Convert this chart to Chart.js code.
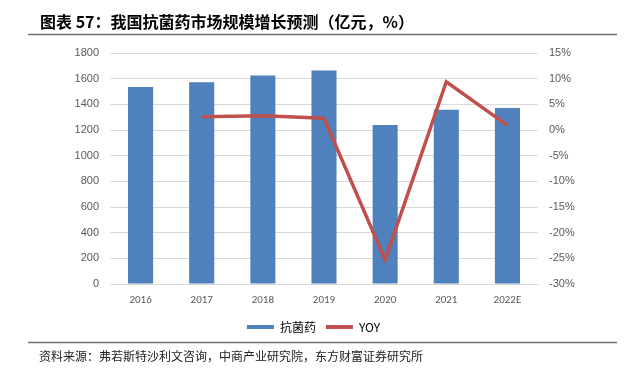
<!DOCTYPE html>
<html>
<head>
<meta charset="utf-8">
<script src="https://cdn.jsdelivr.net/npm/chart.js@4.4.0/dist/chart.umd.min.js"></script>
<style>
  html, body { margin: 0; padding: 0; background: #fff; }
  #wrap { position: relative; width: 627px; height: 373px; }
</style>
</head>
<body>
<div id="wrap"><canvas id="chart" width="627" height="373"></canvas></div>
<script>
const years = ['2016', '2017', '2018', '2019', '2020', '2021', '2022E'];
const marketSize = [1535, 1572, 1624, 1663, 1238, 1357, 1372];
const yoy = [null, 2.6, 2.8, 2.3, -25.3, 9.4, 0.9];
const leftTicks = [0, 200, 400, 600, 800, 1000, 1200, 1400, 1600, 1800];
const rightTicks = [-30, -25, -20, -15, -10, -5, 0, 5, 10, 15];

const titleText = '图表 57：我国抗菌药市场规模增长预测（亿元，%）';
const sourceText = '资料来源：弗若斯特沙利文咨询，中商产业研究院，东方财富证券研究所';

const BLUE = '#4f81bd';
const RED = '#c0504d';
const GREY = '#595959';

// title, rules and source note around the chart
const frame = {
    id: 'frame',
    afterDraw(chart) {
        const c = chart.ctx;
        c.save();
        c.fillStyle = '#000';
        c.font = "bold 16px 'Noto Sans CJK SC'";
        c.textBaseline = 'middle';
        c.fillText(titleText, 40, 22);

        c.strokeStyle = '#6f6f6f';
        c.lineWidth = 1.5;
        c.beginPath();
        c.moveTo(28, 34.5); c.lineTo(617, 34.5);
        c.moveTo(28, 342.5); c.lineTo(617, 342.5);
        c.stroke();

        c.fillStyle = '#222';
        c.font = "12px 'Noto Sans CJK SC'";
        c.fillText(sourceText, 39, 356);
        c.restore();
    }
};

new Chart(document.getElementById('chart').getContext('2d'), {
    type: 'bar',
    plugins: [frame],
    data: {
        labels: years,
        datasets: [
            {
                label: '抗菌药',
                data: marketSize,
                backgroundColor: BLUE,
                yAxisID: 'y',
                barPercentage: 0.82,
                categoryPercentage: 0.5,
                order: 2
            },
            {
                label: 'YOY',
                type: 'line',
                data: yoy,
                borderColor: RED,
                backgroundColor: RED,
                borderWidth: 3.5,
                pointRadius: 0,
                tension: 0,
                spanGaps: false,
                yAxisID: 'y1',
                order: 1
            }
        ]
    },
    options: {
        responsive: false,
        animation: false,
        layout: {
            padding: { top: 53, bottom: 30, left: 0, right: 0 }
        },
        plugins: {
            legend: {
                position: 'bottom',
                labels: {
                    color: GREY,
                    font: { size: 12, family: "'Noto Sans CJK SC'" },
                    boxWidth: 27,
                    boxHeight: 4,
                    padding: 10,
                    generateLabels: function(chart) {
                        return chart.data.datasets.map(function(ds, i) {
                            return {
                                text: ds.label,
                                fillStyle: i === 0 ? BLUE : RED,
                                strokeStyle: i === 0 ? BLUE : RED,
                                lineWidth: 0,
                                datasetIndex: i
                            };
                        });
                    }
                }
            },
            tooltip: { enabled: false }
        },
        scales: {
            x: {
                grid: { display: false, drawTicks: false },
                border: { display: true, color: '#d9d9d9' },
                ticks: {
                    color: GREY,
                    font: { size: 11, family: 'Calibri, Carlito, Arial' },
                    padding: 10
                },
                afterFit: function(scale) { scale.height = 27; }
            },
            y: {
                position: 'left',
                min: 0,
                max: 1800,
                afterBuildTicks: function(scale) {
                    scale.ticks = leftTicks.map(v => ({ value: v }));
                },
                grid: { color: '#d9d9d9', lineWidth: 1, drawTicks: false },
                border: { display: false },
                ticks: {
                    color: GREY,
                    font: { size: 11, family: 'Arial' },
                    padding: 11,
                    callback: function(value) { return String(value); }
                },
                afterFit: function(scale) { scale.width = 110; }
            },
            y1: {
                position: 'right',
                min: -30,
                max: 15,
                afterBuildTicks: function(scale) {
                    scale.ticks = rightTicks.map(v => ({ value: v }));
                },
                grid: { display: false, drawTicks: false },
                border: { display: false },
                ticks: {
                    color: GREY,
                    font: { size: 11, family: 'Arial' },
                    padding: 11,
                    callback: function(value) { return value + '%'; }
                },
                afterFit: function(scale) { scale.width = 89; }
            }
        }
    }
});
</script>
</body>
</html>
